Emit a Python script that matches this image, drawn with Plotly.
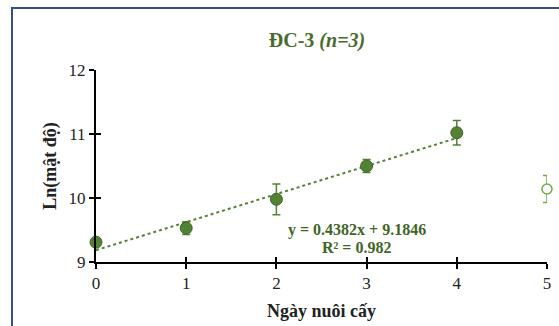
import plotly.graph_objects as go

days = [0, 1, 2, 3, 4]
ln_density = [9.31, 9.53, 9.98, 10.50, 11.02]
ln_err = [0.05, 0.1, 0.24, 0.1, 0.19]
day_out = [5]
ln_out = [10.14]
err_out = [0.21]
slope, intercept = 0.4382, 9.1846
trend_x = [0, 4]
x_ticks = [0, 1, 2, 3, 4, 5]
y_ticks = [9, 10, 11, 12]

dark = "#3f6527"
green = "#548235"
light = "#70ad47"
serif = "Liberation Serif, Times New Roman, serif"

fig = go.Figure()
fig.add_trace(go.Scatter(
    x=trend_x, y=[slope * v + intercept for v in trend_x], mode="lines",
    line=dict(color=green, width=2, dash="dot"), hoverinfo="skip", cliponaxis=False))
fig.add_trace(go.Scatter(
    x=days, y=ln_density, mode="markers",
    marker=dict(size=12, color=green, line=dict(color=dark, width=1)),
    error_y=dict(type="data", array=ln_err, color=green, thickness=1.5, width=4),
    cliponaxis=False))
fig.add_trace(go.Scatter(
    x=day_out, y=ln_out, mode="markers",
    marker=dict(size=10, color="white", symbol="circle", line=dict(color=light, width=1.5)),
    error_y=dict(type="data", array=err_out, color=light, thickness=1.5, width=4),
    cliponaxis=False))

fig.add_annotation(x=2.89, y=9.5, text="<b>y = 0.4382x + 9.1846</b>", showarrow=False,
                   font=dict(family=serif, size=16, color=dark))
fig.add_annotation(x=2.89, y=9.22, text="<b>R² = 0.982</b>", showarrow=False,
                   font=dict(family=serif, size=16, color=dark))

# outer frame
fig.add_shape(type="rect", xref="paper", yref="paper",
              x0=(12 - 96) / 451, x1=1.2, y0=-0.5, y1=(262 - 8) / 192,
              line=dict(color="#34508a", width=2), layer="below")

fig.update_layout(
    width=559, height=326, showlegend=False,
    margin=dict(l=96, r=8, t=70, b=64),
    paper_bgcolor="white", plot_bgcolor="white",
    title=dict(text="<b>ĐC-3 <i>(n=3)</i></b>", x=317 / 559, y=1 - 40 / 326,
               xanchor="center", yanchor="middle",
               font=dict(family=serif, size=20, color="#4a6b2c")),
    xaxis=dict(range=[0, 5], tickvals=x_ticks, showgrid=False, zeroline=False,
               showline=True, linecolor="black", linewidth=2,
               ticks="outside", ticklen=5, tickwidth=2, tickcolor="black",
               tickfont=dict(family=serif, size=17, color="#222"),
               title=dict(text="<b>Ngày nuôi cấy</b>", standoff=12,
                          font=dict(family=serif, size=18, color="#222"))),
    yaxis=dict(range=[9, 12], tickvals=y_ticks, showgrid=False, zeroline=False,
               showline=True, linecolor="black", linewidth=2,
               ticks="outside", ticklen=5, tickwidth=2, tickcolor="black",
               tickfont=dict(family=serif, size=17, color="#222"),
               title=dict(text="<b>Ln(mật độ)</b>", standoff=7,
                          font=dict(family=serif, size=18, color="#222"))),
    xaxis2=dict(range=[0, 5], tickvals=x_ticks, overlaying="x", anchor="y",
                showgrid=False, zeroline=False, showticklabels=False,
                ticks="inside", ticklen=5, tickwidth=2, tickcolor="black", side="bottom"),
    yaxis2=dict(range=[9, 12], tickvals=y_ticks, overlaying="y", anchor="x",
                showgrid=False, zeroline=False, showticklabels=False,
                ticks="inside", ticklen=5, tickwidth=2, tickcolor="black", side="left"),
)
fig.add_trace(go.Scatter(x=[None], y=[None], xaxis="x2", yaxis="y2", hoverinfo="skip"))

fig.write_html("out.html")
